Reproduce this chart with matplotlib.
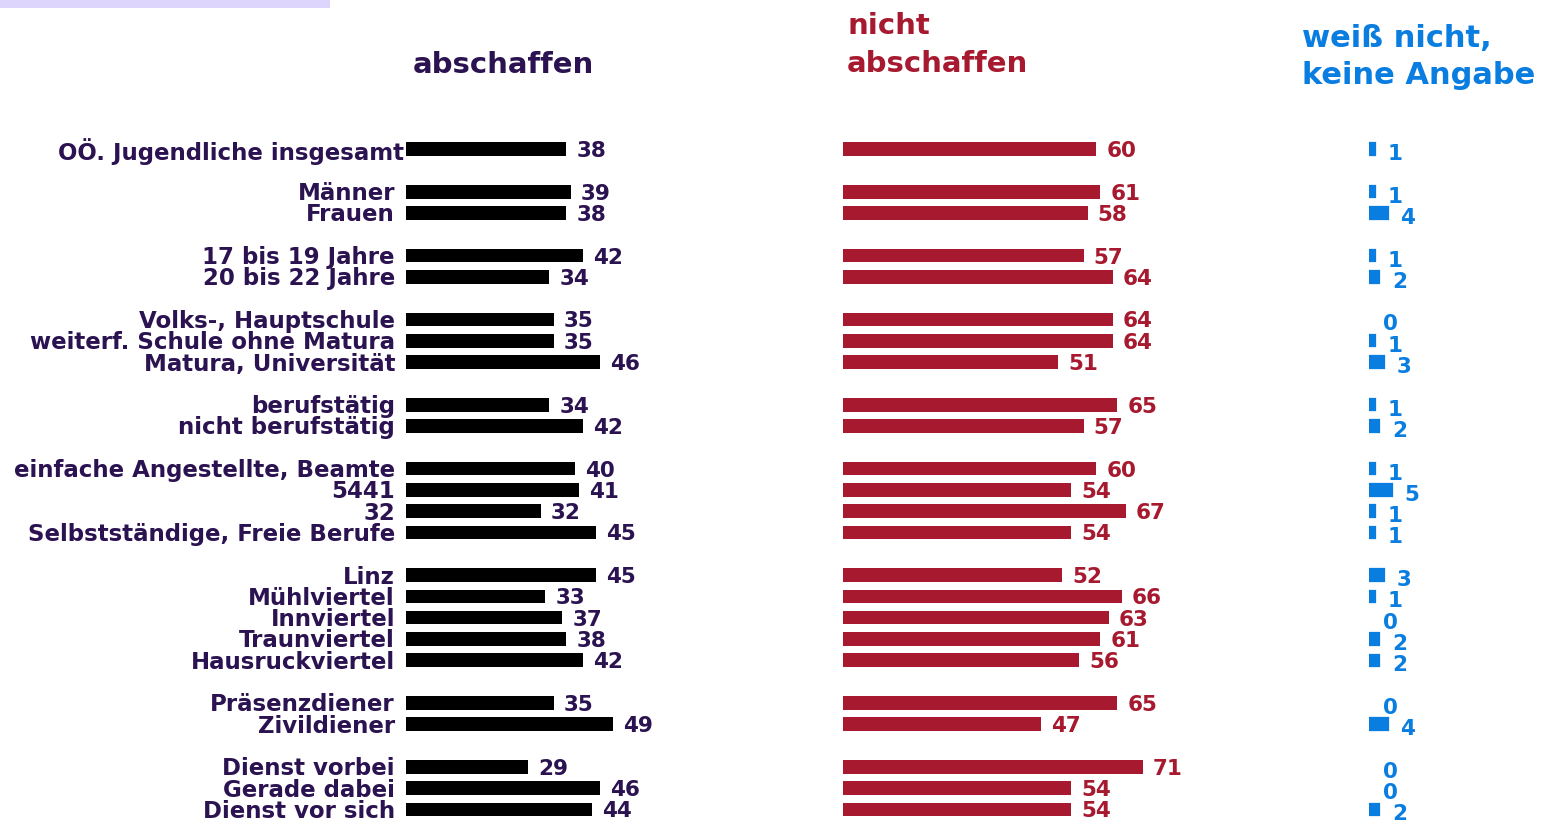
import matplotlib.pyplot as plt
from matplotlib.patches import Rectangle

plt.rcParams['font.family'] = ['DejaVu Sans']

# rows, None = blank spacer between groups
labels = ["OÖ. Jugendliche insgesamt", None,
          "Männer", "Frauen", None,
          "17 bis 19 Jahre", "20 bis 22 Jahre", None,
          "Volks-, Hauptschule", "weiterf. Schule ohne Matura", "Matura, Universität", None,
          "berufstätig", "nicht berufstätig", None,
          "einfache Angestellte, Beamte", "5441", "32", "Selbstständige, Freie Berufe", None,
          "Linz", "Mühlviertel", "Innviertel", "Traunviertel", "Hausruckviertel", None,
          "Präsenzdiener", "Zivildiener", None,
          "Dienst vorbei", "Gerade dabei", "Dienst vor sich"]

abschaffen = [38, None, 39, 38, None, 42, 34, None, 35, 35, 46, None, 34, 42, None,
              40, 41, 32, 45, None, 45, 33, 37, 38, 42, None, 35, 49, None, 29, 46, 44]
nicht_abschaffen = [60, None, 61, 58, None, 57, 64, None, 64, 64, 51, None, 65, 57, None,
                    60, 54, 67, 54, None, 52, 66, 63, 61, 56, None, 65, 47, None, 71, 54, 54]
weiss_nicht = [1, None, 1, 4, None, 1, 2, None, 0, 1, 3, None, 1, 2, None,
               1, 5, 1, 1, None, 3, 1, 0, 2, 2, None, 0, 4, None, 0, 0, 2]

col_label = '#2b1250'
col_black = '#000000'
col_red = '#a6192e'
col_blue = '#0a7de0'

W, H = 1546, 823
fig = plt.figure(figsize=(W / 100, H / 100), dpi=100)

# lavender strip top left
fig.patches.append(Rectangle((0, 1 - 8 / H), 330 / W, 8 / H, transform=fig.transFigure,
                             facecolor='#ddd5fb', edgecolor='none'))

ylim = (31.64, -7.0)
px_per_unit = 4.22


def panel(left_px, width_px, values, color, txtcolor, edge=0, dy=-2):
    ax = fig.add_axes([left_px / W, 0, width_px / W, 1])
    ax.set_xlim(0, width_px / px_per_unit)
    ax.set_ylim(*ylim)
    ax.axis('off')
    h = 0.64 - edge * 1.39 / 21.3
    for i, v in enumerate(values):
        if v is None:
            continue
        if v > 0:
            ax.barh(i, v, height=h, color=color, edgecolor=color, linewidth=edge)
        ax.annotate(str(v), (v, i), xytext=(10 + edge if v > 0 else 14, dy), textcoords='offset pixels',
                    ha='left', va='center', fontsize=15.5, fontweight='bold', color=txtcolor)
    return ax


ax1 = panel(406, 300, abschaffen, col_black, col_label)
ax2 = panel(843, 400, nicht_abschaffen, col_red, col_red)
ax3 = panel(1369, 170, weiss_nicht, col_blue, col_blue, edge=4.5, dy=-5)

for i, lab in enumerate(labels):
    if lab is None:
        continue
    ax1.annotate(lab, (0, i), xytext=(-11 if i > 0 else -2, -2), textcoords='offset pixels',
                 ha='right', va='center', fontsize=16.5, fontweight='bold', color=col_label)

fig.text(503 / W, 1 - 65 / H, "abschaffen", ha='center', va='center',
         fontsize=21, fontweight='bold', color=col_label)
fig.text(847 / W, 1 - 45 / H, "nicht\nabschaffen", ha='left', va='center',
         fontsize=21, fontweight='bold', color=col_red, linespacing=1.5)
fig.text(1302 / W, 1 - 57 / H, "weiß nicht,\nkeine Angabe", ha='left', va='center',
         fontsize=22, fontweight='bold', color=col_blue, linespacing=1.35)

fig.savefig('out.png', dpi=100)
